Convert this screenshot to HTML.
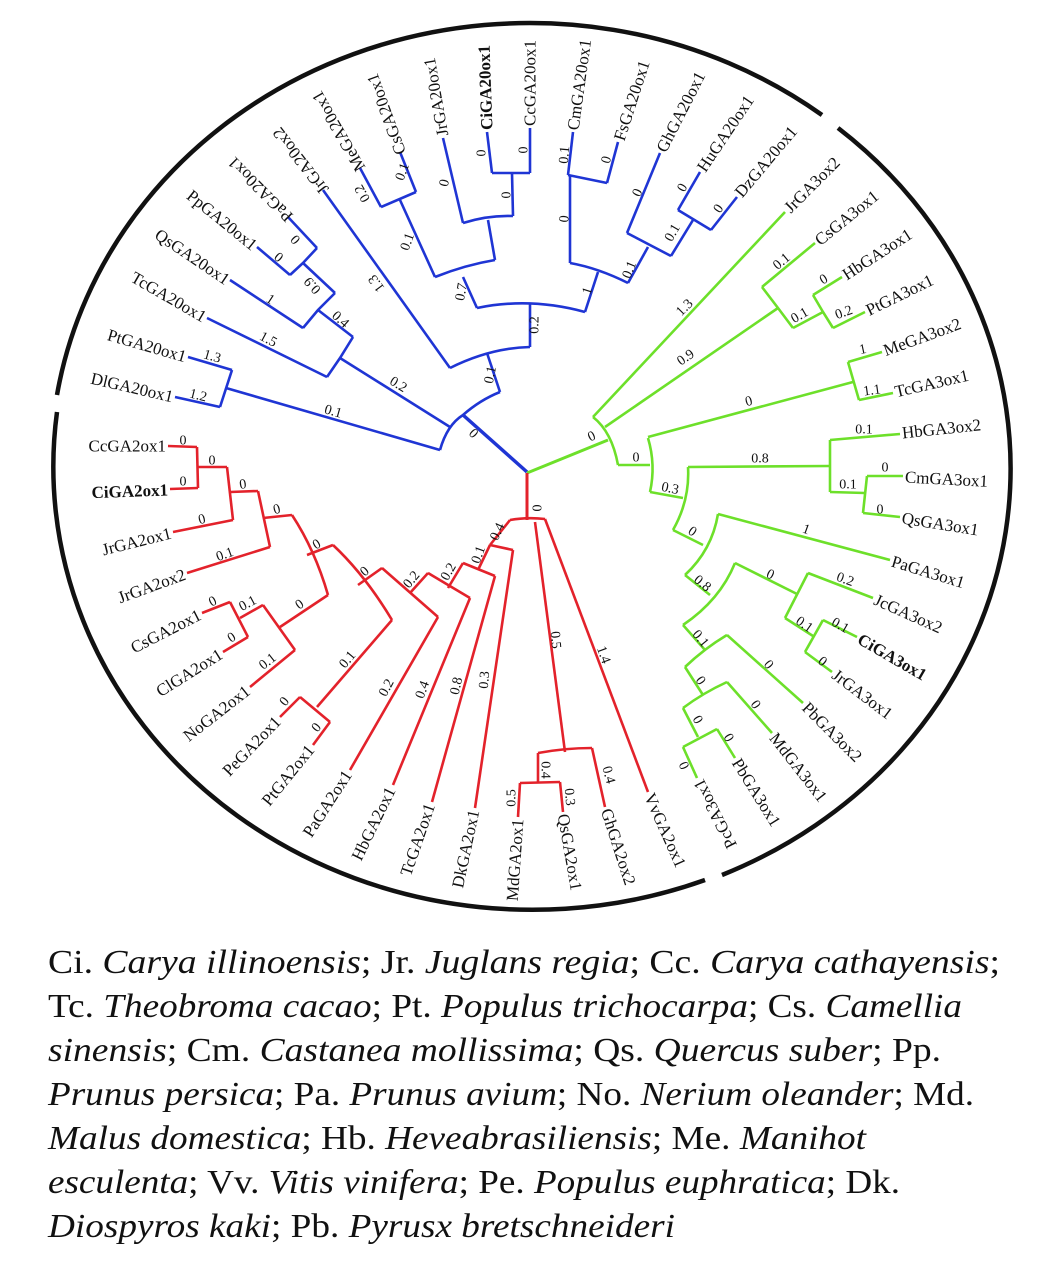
<!DOCTYPE html>
<html><head><meta charset="utf-8"><style>
html,body{margin:0;padding:0;background:#fff;}
svg{position:absolute;left:0;top:0;}
.l{font-family:"Liberation Serif",serif;font-size:17px;fill:#111;dominant-baseline:central;}
.b{font-weight:bold;}
.n{font-family:"Liberation Serif",serif;font-size:14px;fill:#111;text-anchor:middle;dominant-baseline:central;}
.g{font-family:"Liberation Serif",serif;font-size:34px;fill:#111;}
</style></head><body>
<svg width="1063" height="1273" viewBox="0 0 1063 1273" xmlns="http://www.w3.org/2000/svg">
<g fill="none" stroke="#111" stroke-width="4.5">
<path d="M838,128 A479,443 0 0 1 722,875"/>
<path d="M705,880 A479,443 0 0 1 57,412"/>
<path d="M57,395 A479,443 0 0 1 822,115"/>
</g>
<g fill="none" stroke="#1f35d4" stroke-width="2.6" stroke-linejoin="miter">
<path d="M527,472 L463,415" stroke-width="3.5"/>
<path d="M440,450 Q447,425 463,415 Q480,400 500,392"/>
<path d="M450,427 L340,358"/>
<path d="M440,450 L226,388"/>
<path d="M232,370 L220,407"/>
<path d="M232,370 L188,357"/>
<path d="M220,407 L175,397"/>
<path d="M353,337 L340,358 L327,377"/>
<path d="M327,377 L207,318"/>
<path d="M353,337 L318,310"/>
<path d="M303,328 L318,310 L335,293"/>
<path d="M303,328 L230,280"/>
<path d="M335,293 L303,263"/>
<path d="M290,275 L303,263 L317,248"/>
<path d="M317,248 L288,217"/>
<path d="M290,275 L257,247"/>
<path d="M500,392 L487,353"/>
<path d="M450,368 Q490,348 530,347"/>
<path d="M450,368 L323,190"/>
<path d="M530,347 L530,303"/>
<path d="M477,308 Q530,297 585,312"/>
<path d="M477,308 L463,277"/>
<path d="M435,277 Q465,265 495,260"/>
<path d="M435,277 L400,200"/>
<path d="M381,207 L416,192"/>
<path d="M381,207 L360,168"/>
<path d="M416,192 L400,152"/>
<path d="M495,260 L488,220"/>
<path d="M463,223 Q488,215 513,216"/>
<path d="M463,223 L443,138"/>
<path d="M513,216 L512,173"/>
<path d="M492,173 L530,173"/>
<path d="M492,173 L487,132"/>
<path d="M530,173 L530,128"/>
<path d="M585,312 L598,272"/>
<path d="M570,263 Q598,268 628,283"/>
<path d="M570,263 L570,175"/>
<path d="M568,175 L607,183"/>
<path d="M568,175 L573,132"/>
<path d="M607,183 L618,142"/>
<path d="M628,283 L648,247"/>
<path d="M627,233 L671,256"/>
<path d="M627,233 L660,153"/>
<path d="M671,256 L693,220"/>
<path d="M678,210 L711,230"/>
<path d="M678,210 L700,172"/>
<path d="M711,230 L737,197"/>
</g>
<g fill="none" stroke="#6de02a" stroke-width="2.6">
<path d="M527,473 L608,440" stroke-width="3"/>
<path d="M593,417 Q612,432 618,465"/>
<path d="M593,417 L785,212"/>
<path d="M605,427 L778,308"/>
<path d="M762,287 L778,308 L793,328"/>
<path d="M762,287 L815,243"/>
<path d="M793,328 L823,312"/>
<path d="M813,295 L823,312 L833,328"/>
<path d="M813,295 L842,277"/>
<path d="M833,328 L865,312"/>
<path d="M618,465 L650,465"/>
<path d="M648,438 Q656,465 650,492"/>
<path d="M648,437 L853,382"/>
<path d="M848,362 L859,400"/>
<path d="M848,362 L882,352"/>
<path d="M859,400 L893,393"/>
<path d="M650,492 L683,498"/>
<path d="M688,467 Q690,500 673,530"/>
<path d="M688,467 L830,466"/>
<path d="M830,440 L830,492"/>
<path d="M830,440 L900,434"/>
<path d="M830,492 L865,493"/>
<path d="M867,476 L863,513"/>
<path d="M867,476 L903,476"/>
<path d="M863,513 L900,517"/>
<path d="M673,530 L703,545"/>
<path d="M718,514 Q712,550 685,575"/>
<path d="M718,514 L890,560"/>
<path d="M685,575 L710,595"/>
<path d="M735,563 Q720,600 683,625"/>
<path d="M735,563 L797,594"/>
<path d="M808,573 L785,618"/>
<path d="M808,573 L873,598"/>
<path d="M785,618 L813,636"/>
<path d="M823,620 L805,652"/>
<path d="M823,620 L857,637"/>
<path d="M805,652 L832,672"/>
<path d="M683,625 L705,650"/>
<path d="M727,635 Q705,648 685,667"/>
<path d="M727,635 L803,703"/>
<path d="M685,667 L703,695"/>
<path d="M727,682 Q703,693 683,708"/>
<path d="M727,682 L772,733"/>
<path d="M683,708 L698,737"/>
<path d="M717,729 L683,747"/>
<path d="M717,729 L735,758"/>
<path d="M683,747 L697,778"/>
</g>
<g fill="none" stroke="#e3222b" stroke-width="2.6">
<path d="M527,473 L527,520" stroke-width="3"/>
<path d="M510,520 Q527,517 545,519"/>
<path d="M510,520 L490,545"/>
<path d="M535,522 L565,752"/>
<path d="M545,519 L648,792"/>
<path d="M490,545 L513,550"/>
<path d="M513,550 L475,808"/>
<path d="M490,545 L478,570"/>
<path d="M463,563 L495,576"/>
<path d="M495,576 L432,802"/>
<path d="M463,563 L448,588"/>
<path d="M428,573 L470,598"/>
<path d="M470,598 L393,785"/>
<path d="M428,573 L410,593"/>
<path d="M382,568 L438,617"/>
<path d="M438,617 L350,770"/>
<path d="M382,568 L358,585"/>
<path d="M333,545 Q365,575 392,620"/>
<path d="M392,620 L317,707"/>
<path d="M300,697 L330,722"/>
<path d="M300,697 L280,717"/>
<path d="M330,722 L313,745"/>
<path d="M333,545 L307,555"/>
<path d="M292,515 Q315,550 328,595"/>
<path d="M328,595 L280,627"/>
<path d="M263,605 L295,650"/>
<path d="M295,650 L250,687"/>
<path d="M263,605 L240,618"/>
<path d="M230,602 L248,637"/>
<path d="M230,602 L202,613"/>
<path d="M248,637 L223,652"/>
<path d="M292,515 L263,518"/>
<path d="M258,491 L270,547"/>
<path d="M270,547 L187,573"/>
<path d="M258,491 L230,492"/>
<path d="M227,467 L233,520"/>
<path d="M233,520 L173,532"/>
<path d="M227,467 L198,467"/>
<path d="M197,447 L198,488"/>
<path d="M197,447 L168,446"/>
<path d="M198,488 L170,489"/>
<path d="M538,753 Q565,748 592,748"/>
<path d="M592,748 L605,807"/>
<path d="M538,753 L538,783"/>
<path d="M520,783 L560,782"/>
<path d="M560,782 L563,812"/>
<path d="M520,783 L518,817"/>
</g>

<g class="l">
<text x="186" y="357" text-anchor="end" transform="rotate(16 186 357)">PtGA20ox1</text>
<text x="173" y="397" text-anchor="end" transform="rotate(13 173 397)">DlGA20ox1</text>
<text x="205" y="318" text-anchor="end" transform="rotate(30 205 318)">TcGA20ox1</text>
<text x="228" y="281" text-anchor="end" transform="rotate(34 228 281)">QsGA20ox1</text>
<text x="255" y="247" text-anchor="end" transform="rotate(39 255 247)">PpGA20ox1</text>
<text x="290" y="219" transform="rotate(-135 290 219)">PaGA20ox1</text>
<text x="325" y="192" transform="rotate(-128 325 192)">JrGA20ox2</text>
<text x="361" y="170" transform="rotate(-120 361 170)">MeGA20ox1</text>
<text x="401" y="154" transform="rotate(-110 401 154)">CsGA20ox1</text>
<text x="443" y="136" transform="rotate(-100 443 136)">JrGA20ox1</text>
<text x="487" y="130" class="b" transform="rotate(-92 487 130)">CiGA20ox1</text>
<text x="530" y="126" transform="rotate(-90 530 126)">CcGA20ox1</text>
<text x="573" y="130" transform="rotate(-82 573 130)">CmGA20ox1</text>
<text x="619" y="140" transform="rotate(-72 619 140)">FsGA20ox1</text>
<text x="661" y="151" transform="rotate(-63 661 151)">GhGA20ox1</text>
<text x="701" y="170" transform="rotate(-56 701 170)">HuGA20ox1</text>
<text x="738" y="195" transform="rotate(-50 738 195)">DzGA20ox1</text>
<text x="787" y="210" transform="rotate(-45 787 210)">JrGA3ox2</text>
<text x="817" y="242" transform="rotate(-39 817 242)">CsGA3ox1</text>
<text x="844" y="276" transform="rotate(-33 844 276)">HbGA3ox1</text>
<text x="867" y="311" transform="rotate(-26 867 311)">PtGA3ox1</text>
<text x="884" y="351" transform="rotate(-20 884 351)">MeGA3ox2</text>
<text x="895" y="392" transform="rotate(-13 895 392)">TcGA3ox1</text>
<text x="902" y="433" transform="rotate(-6 902 433)">HbGA3ox2</text>
<text x="905" y="477" transform="rotate(3 905 477)">CmGA3ox1</text>
<text x="902" y="518" transform="rotate(9 902 518)">QsGA3ox1</text>
<text x="892" y="561" transform="rotate(17 892 561)">PaGA3ox1</text>
<text x="875" y="599" transform="rotate(24 875 599)">JcGA3ox2</text>
<text x="859" y="638" class="b" transform="rotate(30 859 638)">CiGA3ox1</text>
<text x="834" y="673" transform="rotate(37 834 673)">JrGA3ox1</text>
<text x="805" y="705" transform="rotate(45 805 705)">PbGA3ox2</text>
<text x="773" y="735" transform="rotate(52 773 735)">MdGA3ox1</text>
<text x="736" y="760" transform="rotate(58 736 760)">PbGA3ox1</text>
<text x="698" y="780" text-anchor="end" transform="rotate(243 698 780)">PcGA3ox1</text>
<text x="166" y="446" text-anchor="end">CcGA2ox1</text>
<text x="168" y="490" text-anchor="end" class="b" transform="rotate(-2 168 490)">CiGA2ox1</text>
<text x="171" y="533" text-anchor="end" transform="rotate(-14 171 533)">JrGA2ox1</text>
<text x="185" y="574" text-anchor="end" transform="rotate(-20 185 574)">JrGA2ox2</text>
<text x="200" y="614" text-anchor="end" transform="rotate(-27 200 614)">CsGA2ox1</text>
<text x="221" y="653" text-anchor="end" transform="rotate(-32 221 653)">ClGA2ox1</text>
<text x="248" y="689" text-anchor="end" transform="rotate(-38 248 689)">NoGA2ox1</text>
<text x="278" y="719" text-anchor="end" transform="rotate(-46 278 719)">PeGA2ox1</text>
<text x="311" y="747" text-anchor="end" transform="rotate(-51 311 747)">PtGA2ox1</text>
<text x="348" y="772" text-anchor="end" transform="rotate(-57 348 772)">PaGA2ox1</text>
<text x="391" y="788" text-anchor="end" transform="rotate(-64 391 788)">HbGA2ox1</text>
<text x="430" y="804" text-anchor="end" transform="rotate(-71 430 804)">TcGA2ox1</text>
<text x="474" y="810" text-anchor="end" transform="rotate(-78 474 810)">DkGA2ox1</text>
<text x="518" y="819" text-anchor="end" transform="rotate(-86 518 819)">MdGA2ox1</text>
<text x="563" y="814" transform="rotate(80 563 814)">QsGA2ox1</text>
<text x="606" y="809" transform="rotate(72 606 809)">GhGA2ox2</text>
<text x="649" y="794" transform="rotate(66 649 794)">VvGA2ox1</text>
</g>

<g class="n">
<text transform="translate(473,434) rotate(45)">0</text>
<text transform="translate(333,412) rotate(16)">0.1</text>
<text transform="translate(212,357) rotate(16)">1.3</text>
<text transform="translate(198,396) rotate(14)">1.2</text>
<text transform="translate(398,385) rotate(32)">0.2</text>
<text transform="translate(268,340) rotate(28)">1.5</text>
<text transform="translate(340,320) rotate(42)">0.4</text>
<text transform="translate(270,300) rotate(33)">1</text>
<text transform="translate(313,285) rotate(228)">0.9</text>
<text transform="translate(296,239) rotate(228)">0</text>
<text transform="translate(278,258) rotate(40)">0</text>
<text transform="translate(377,283) rotate(234)">1.3</text>
<text transform="translate(491,375) rotate(-78)">0.1</text>
<text transform="translate(535,325) rotate(-90)">0.2</text>
<text transform="translate(462,292) rotate(-80)">0.7</text>
<text transform="translate(588,291) rotate(-72)">1</text>
<text transform="translate(408,242) rotate(-70)">0.1</text>
<text transform="translate(363,193) rotate(-120)">0.2</text>
<text transform="translate(403,172) rotate(-70)">0.1</text>
<text transform="translate(445,183) rotate(-77)">0</text>
<text transform="translate(507,195) rotate(-90)">0</text>
<text transform="translate(482,153) rotate(-90)">0</text>
<text transform="translate(524,150) rotate(-90)">0</text>
<text transform="translate(565,219) rotate(-85)">0</text>
<text transform="translate(565,155) rotate(-85)">0.1</text>
<text transform="translate(607,160) rotate(-75)">0</text>
<text transform="translate(630,270) rotate(-68)">0.1</text>
<text transform="translate(638,193) rotate(-65)">0</text>
<text transform="translate(673,233) rotate(-60)">0.1</text>
<text transform="translate(683,188) rotate(-60)">0</text>
<text transform="translate(719,209) rotate(-55)">0</text>
<text transform="translate(592,437) rotate(-25)">0</text>
<text transform="translate(685,308) rotate(-45)">1.3</text>
<text transform="translate(686,358) rotate(-35)">0.9</text>
<text transform="translate(782,262) rotate(-40)">0.1</text>
<text transform="translate(800,316) rotate(-30)">0.1</text>
<text transform="translate(824,280) rotate(-30)">0</text>
<text transform="translate(844,313) rotate(-20)">0.2</text>
<text transform="translate(749,402) rotate(-15)">0</text>
<text transform="translate(863,350) rotate(-12)">1</text>
<text transform="translate(872,391) rotate(-8)">1.1</text>
<text transform="translate(636,458)">0</text>
<text transform="translate(760,459)">0.8</text>
<text transform="translate(864,430)">0.1</text>
<text transform="translate(848,485)">0.1</text>
<text transform="translate(885,468)">0</text>
<text transform="translate(880,510)">0</text>
<text transform="translate(670,489) rotate(12)">0.3</text>
<text transform="translate(692,532) rotate(35)">0</text>
<text transform="translate(806,530) rotate(20)">1</text>
<text transform="translate(702,584) rotate(40)">0.8</text>
<text transform="translate(770,575) rotate(25)">0</text>
<text transform="translate(845,580) rotate(20)">0.2</text>
<text transform="translate(804,625) rotate(35)">0.1</text>
<text transform="translate(840,626) rotate(30)">0.1</text>
<text transform="translate(822,662) rotate(40)">0</text>
<text transform="translate(700,639) rotate(50)">0.1</text>
<text transform="translate(768,665) rotate(50)">0</text>
<text transform="translate(700,681) rotate(55)">0</text>
<text transform="translate(755,705) rotate(55)">0</text>
<text transform="translate(697,720) rotate(60)">0</text>
<text transform="translate(728,738) rotate(60)">0</text>
<text transform="translate(683,766) rotate(65)">0</text>
<text transform="translate(536,508) rotate(90)">0</text>
<text transform="translate(498,532) rotate(-65)">0.4</text>
<text transform="translate(479,555) rotate(-70)">0.1</text>
<text transform="translate(449,572) rotate(-60)">0.2</text>
<text transform="translate(412,580) rotate(-50)">0.2</text>
<text transform="translate(365,572) rotate(-40)">0</text>
<text transform="translate(485,680) rotate(-85)">0.3</text>
<text transform="translate(457,686) rotate(-77)">0.8</text>
<text transform="translate(423,690) rotate(-70)">0.4</text>
<text transform="translate(387,688) rotate(-62)">0.2</text>
<text transform="translate(348,660) rotate(-50)">0.1</text>
<text transform="translate(285,702) rotate(-50)">0</text>
<text transform="translate(317,728) rotate(-50)">0</text>
<text transform="translate(317,545) rotate(-30)">0</text>
<text transform="translate(277,510) rotate(-15)">0</text>
<text transform="translate(243,485) rotate(-8)">0</text>
<text transform="translate(212,461)">0</text>
<text transform="translate(183,441)">0</text>
<text transform="translate(183,482)">0</text>
<text transform="translate(202,520) rotate(-14)">0</text>
<text transform="translate(225,555) rotate(-20)">0.1</text>
<text transform="translate(300,605) rotate(-35)">0</text>
<text transform="translate(248,604) rotate(-28)">0.1</text>
<text transform="translate(213,602) rotate(-27)">0</text>
<text transform="translate(232,638) rotate(-32)">0</text>
<text transform="translate(268,662) rotate(-38)">0.1</text>
<text transform="translate(555,640) rotate(85)">0.5</text>
<text transform="translate(603,655) rotate(70)">1.4</text>
<text transform="translate(545,770) rotate(90)">0.4</text>
<text transform="translate(569,797) rotate(85)">0.3</text>
<text transform="translate(608,775) rotate(75)">0.4</text>
<text transform="translate(512,798) rotate(-90)">0.5</text>
</g>

<g class="g">
<text x="48" y="973" textLength="952" lengthAdjust="spacingAndGlyphs">Ci. <tspan font-style="italic">Carya illinoensis</tspan>; Jr. <tspan font-style="italic">Juglans regia</tspan>; Cc. <tspan font-style="italic">Carya cathayensis</tspan>;</text>
<text x="48" y="1017" textLength="914" lengthAdjust="spacingAndGlyphs">Tc. <tspan font-style="italic">Theobroma cacao</tspan>; Pt. <tspan font-style="italic">Populus trichocarpa</tspan>; Cs. <tspan font-style="italic">Camellia</tspan></text>
<text x="48" y="1061" textLength="893" lengthAdjust="spacingAndGlyphs"><tspan font-style="italic">sinensis</tspan>; Cm. <tspan font-style="italic">Castanea mollissima</tspan>; Qs. <tspan font-style="italic">Quercus suber</tspan>; Pp.</text>
<text x="48" y="1105" textLength="926" lengthAdjust="spacingAndGlyphs"><tspan font-style="italic">Prunus persica</tspan>; Pa. <tspan font-style="italic">Prunus avium</tspan>; No. <tspan font-style="italic">Nerium oleander</tspan>; Md.</text>
<text x="48" y="1149" textLength="818" lengthAdjust="spacingAndGlyphs"><tspan font-style="italic">Malus domestica</tspan>; Hb. <tspan font-style="italic">Heveabrasiliensis</tspan>; Me. <tspan font-style="italic">Manihot</tspan></text>
<text x="48" y="1193" textLength="852" lengthAdjust="spacingAndGlyphs"><tspan font-style="italic">esculenta</tspan>; Vv. <tspan font-style="italic">Vitis vinifera</tspan>; Pe. <tspan font-style="italic">Populus euphratica</tspan>; Dk.</text>
<text x="48" y="1237" textLength="627" lengthAdjust="spacingAndGlyphs"><tspan font-style="italic">Diospyros kaki</tspan>; Pb. <tspan font-style="italic">Pyrusx bretschneideri</tspan></text>
</g>
</svg>
</body></html>
